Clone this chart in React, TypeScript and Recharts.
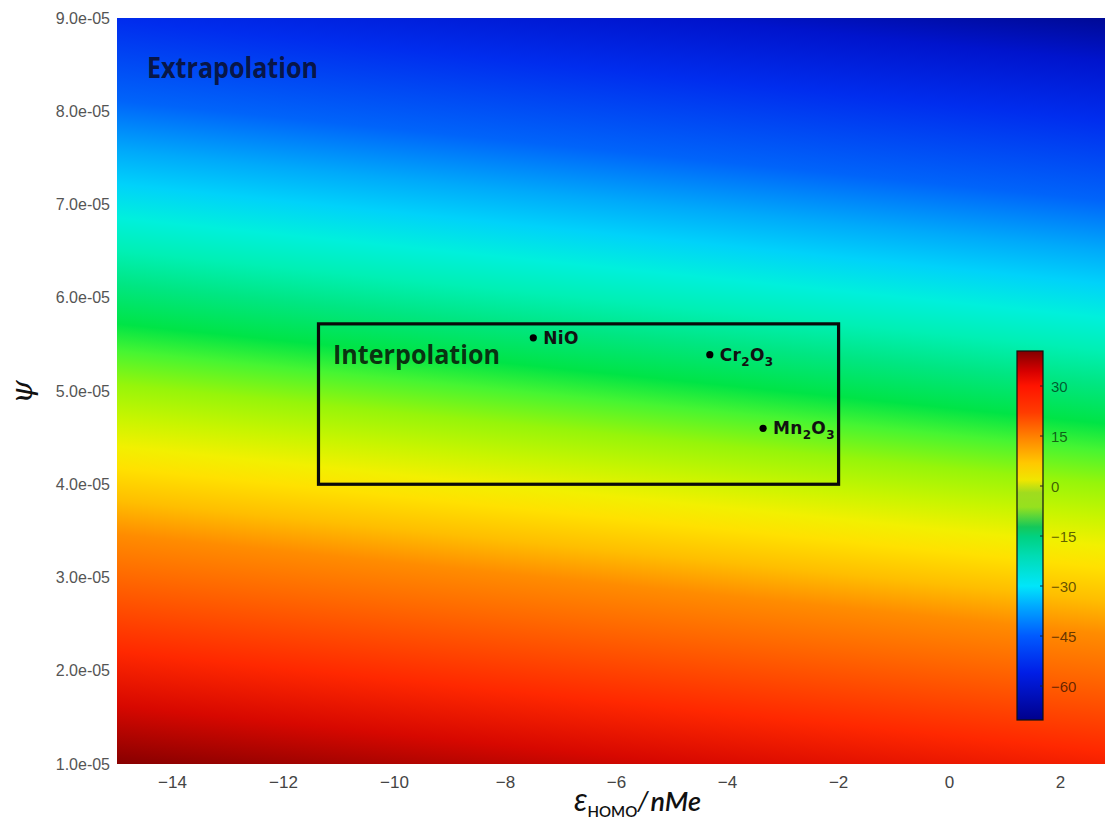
import React from 'react';
import { ScatterChart, Scatter, XAxis, YAxis, ReferenceArea, Customized } from 'recharts';

// ---------- data ----------
const X_TICKS = [-14, -12, -10, -8, -6, -4, -2, 0, 2];
const X_DOMAIN = [-15, 2.8];
const Y_TICKS = [1e-5, 2e-5, 3e-5, 4e-5, 5e-5, 6e-5, 7e-5, 8e-5, 9e-5];
const Y_DOMAIN = [1e-5, 9e-5];
const MATERIAL_NAMES = ['NiO', 'Cr2O3', 'Mn2O3'];
const MATERIAL_X = [-7.5, -4.32, -3.36];
const MATERIAL_Y = [5.57e-5, 5.39e-5, 4.6e-5];
const INTERP_X = [-11.37, -2.0];
const INTERP_Y = [4.0e-5, 5.72e-5];
const COLORBAR_TICKS = [30, 15, 0, -15, -30, -45, -60];
const COLORBAR_RANGE = [-70.2, 40.5];

// ---------- styles ----------
// background field: colour stops along the left edge (fraction of plot height), tilted contours
const FIELD_TILT = 0.101;
const FIELD_STOPS: [number, string][] = [
  [-0.134, 'rgb(0,10,150)'],
  [-0.076, 'rgb(0,20,205)'],
  [0.004, 'rgb(0,45,238)'],
  [0.111, 'rgb(0,100,250)'],
  [0.178, 'rgb(0,170,250)'],
  [0.2225, 'rgb(0,210,250)'],
  [0.268, 'rgb(0,240,220)'],
  [0.312, 'rgb(0,240,180)'],
  [0.357, 'rgb(0,230,130)'],
  [0.41, 'rgb(0,228,70)'],
  [0.446, 'rgb(70,245,50)'],
  [0.491, 'rgb(150,245,10)'],
  [0.536, 'rgb(200,245,0)'],
  [0.574, 'rgb(242,240,0)'],
  [0.603, 'rgb(255,225,0)'],
  [0.647, 'rgb(255,190,0)'],
  [0.692, 'rgb(255,140,0)'],
  [0.748, 'rgb(255,105,0)'],
  [0.849, 'rgb(255,40,0)'],
  [0.922, 'rgb(215,8,0)'],
  [1.0, 'rgb(135,0,0)'],
];
const CBAR_STOPS: [number, string][] = [
  [40.5, 'rgb(130,0,0)'],
  [34.4, 'rgb(215,0,0)'],
  [30, 'rgb(255,20,0)'],
  [22, 'rgb(255,60,0)'],
  [14.7, 'rgb(255,130,0)'],
  [6.9, 'rgb(255,200,0)'],
  [1.8, 'rgb(240,230,0)'],
  [-2, 'rgb(160,220,30)'],
  [-6.3, 'rgb(150,225,30)'],
  [-12.3, 'rgb(20,200,90)'],
  [-15.3, 'rgb(0,210,130)'],
  [-21, 'rgb(0,220,180)'],
  [-30, 'rgb(0,230,250)'],
  [-36, 'rgb(0,170,255)'],
  [-45, 'rgb(0,90,255)'],
  [-56, 'rgb(0,30,230)'],
  [-70.2, 'rgb(0,0,140)'],
];
const CBAR_BOX = { x: 1017, y: 351, w: 26, h: 369 };

const materials = MATERIAL_NAMES.map((name, i) => ({ name, x: MATERIAL_X[i], y: MATERIAL_Y[i] }));

const fmtX = (v: number) => (v < 0 ? '\u2212' + Math.abs(v) : String(v));
const fmtY = (v: number) => {
  const e = Math.floor(Math.log10(v) + 1e-9);
  const m = v / Math.pow(10, e);
  const sign = e < 0 ? '-' : '+';
  const ae = Math.abs(e);
  return `${m.toFixed(1)}e${sign}${ae < 10 ? '0' + ae : ae}`;
};

const FieldShape = (props: any) => {
  const { x, y, width: W, height: H } = props;
  const s = FIELD_TILT;
  const L = (s * W + H) / (1 + s * s);
  const x1 = x + W;
  const y1 = y;
  const x2 = x + W - s * L;
  const y2 = y + L;
  return (
    <g>
      <defs>
        <linearGradient id="fieldGrad" gradientUnits="userSpaceOnUse" x1={x1} y1={y1} x2={x2} y2={y2}>
          {FIELD_STOPS.map(([f, c], i) => (
            <stop key={i} offset={(f * H + s * W) / (s * W + H)} stopColor={c} />
          ))}
        </linearGradient>
      </defs>
      <rect x={x} y={y} width={W} height={H} fill="url(#fieldGrad)" />
    </g>
  );
};

const BoxShape = (props: any) => {
  const { x, y, width, height } = props;
  return <rect x={x} y={y} width={width} height={height} fill="none" stroke="#0a0a0a" strokeWidth={3.2} />;
};

const renderName = (name: string) => {
  const parts = name.match(/[A-Za-z]+|\d+/g) || [];
  let sub = false;
  return parts.map((p, i) => {
    const isDigit = /\d/.test(p);
    let dy = 0;
    if (isDigit && !sub) { dy = 5; sub = true; }
    else if (!isDigit && sub) { dy = -5; sub = false; }
    return (
      <tspan key={i} dy={dy} fontSize={isDigit ? 12 : 17}>{p}</tspan>
    );
  });
};

const MaterialShape = (props: any) => {
  const { cx, cy, payload } = props;
  return (
    <g>
      <circle cx={cx} cy={cy} r={3.6} fill="#000" />
      <text x={cx + 10} y={cy + 6} fontFamily="'DejaVu Sans', sans-serif" fontWeight="bold" letterSpacing={0.3} fill="#111">
        {renderName(payload.name)}
      </text>
    </g>
  );
};

// annotation layer drawn above the field: region labels and the colour bar
const OverlayShape = () => {
  const { x, y, w, h } = CBAR_BOX;
  const [vmin, vmax] = COLORBAR_RANGE;
  const toY = (v: number) => y + ((vmax - v) / (vmax - vmin)) * h;
  return (
    <g>
      <text x={147} y={78} fontFamily="'Open Sans', sans-serif" fontWeight={700} fontSize={28} fill="#0a1030" fillOpacity={0.9} textLength={171} lengthAdjust="spacingAndGlyphs">Extrapolation</text>
      <text x={333} y={364} fontFamily="'Open Sans', sans-serif" fontWeight={700} fontSize={27} fill="#0a1a0a" fillOpacity={0.9} textLength={167} lengthAdjust="spacingAndGlyphs">Interpolation</text>
      <defs>
        <linearGradient id="cbarGrad" x1="0" y1="0" x2="0" y2="1">
          {CBAR_STOPS.map(([v, c], i) => (
            <stop key={i} offset={(vmax - v) / (vmax - vmin)} stopColor={c} />
          ))}
        </linearGradient>
      </defs>
      <rect x={x} y={y} width={w} height={h} fill="url(#cbarGrad)" stroke="#111" strokeWidth={1.2} />
      {COLORBAR_TICKS.map((t) => (
        <g key={t}>
          <line x1={x + w - 3} x2={x + w} y1={toY(t)} y2={toY(t)} stroke="#222" strokeWidth={1} />
          <text x={x + w + 8} y={toY(t)} dominantBaseline="central" fontFamily="'Liberation Sans', Arial, sans-serif" fontSize={15} fill="#000" fillOpacity={0.62}>{fmtX(t)}</text>
        </g>
      ))}
    </g>
  );
};

const AxisTitles = () => (
  <g>
    <text transform="translate(32,392) rotate(-90)" textAnchor="middle" fontFamily="'DejaVu Serif', serif" fontStyle="italic" fontSize={30} fill="#111">ψ</text>
    <text x={574} y={811} fontFamily="Lato, 'Open Sans', sans-serif" fontStyle="italic" fill="#111">
      <tspan fontSize={32}>ε</tspan>
      <tspan fontSize={15} dy={6} fontStyle="normal" fontWeight={600}>HOMO</tspan>
      <tspan fontSize={27} dy={-6}>/</tspan>
      <tspan fontSize={27} dx={2} fontWeight={600}>nMe</tspan>
    </text>
  </g>
);

export default function App() {
  return (
    <div style={{ position: 'absolute', left: 0, top: 0, width: 1105, height: 822, background: '#fff' }}>
      <ScatterChart width={1105} height={822} margin={{ top: 18, right: 0, bottom: 0, left: 0 }}>
        <XAxis
          type="number"
          dataKey="x"
          domain={X_DOMAIN}
          ticks={X_TICKS}
          allowDataOverflow
          axisLine={false}
          tickLine={false}
          tickSize={0}
          tickMargin={12}
          height={58}
          tickFormatter={fmtX}
          tick={{ fontSize: 17, fill: '#444', fontFamily: "'Liberation Sans', Arial, sans-serif" }}
        />
        <YAxis
          type="number"
          dataKey="y"
          domain={Y_DOMAIN}
          ticks={Y_TICKS}
          allowDataOverflow
          axisLine={false}
          tickLine={false}
          tickSize={0}
          tickMargin={7}
          width={117}
          tickFormatter={fmtY}
          tick={{ fontSize: 16, fill: '#555', fontFamily: "'Liberation Sans', Arial, sans-serif" }}
        />
        <ReferenceArea x1={X_DOMAIN[0]} x2={X_DOMAIN[1]} y1={Y_DOMAIN[0]} y2={Y_DOMAIN[1]} shape={FieldShape} ifOverflow="visible" />
        <ReferenceArea x1={INTERP_X[0]} x2={INTERP_X[1]} y1={INTERP_Y[0]} y2={INTERP_Y[1]} shape={BoxShape} />
        <ReferenceArea x1={X_DOMAIN[0]} x2={X_DOMAIN[1]} y1={Y_DOMAIN[0]} y2={Y_DOMAIN[1]} shape={OverlayShape} ifOverflow="visible" />
        <Scatter data={materials} isAnimationActive={false} shape={MaterialShape} />
        <Customized component={AxisTitles} />
      </ScatterChart>
    </div>
  );
}
